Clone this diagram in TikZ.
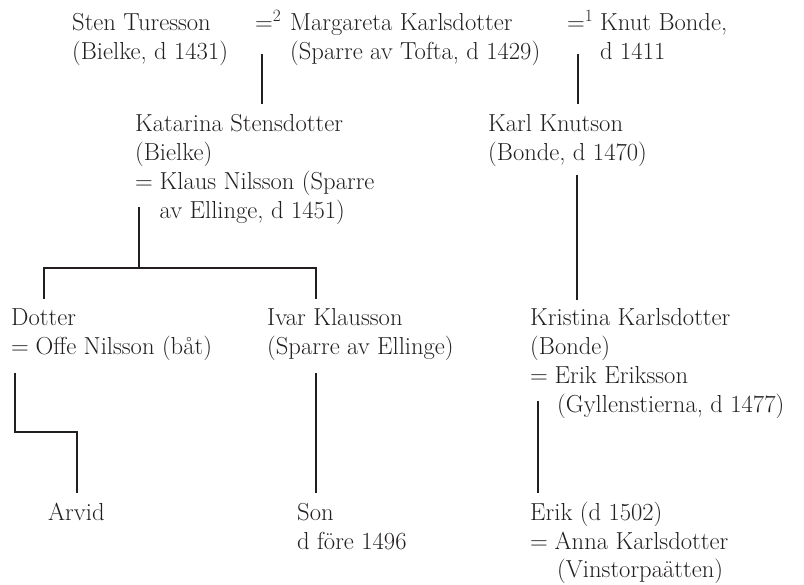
\documentclass[tikz,border=0pt]{standalone}
\definecolor{ink}{HTML}{231F20}
\newcommand\ppl[1]{\begin{tabular}[t]{@{}l@{}}#1\end{tabular}}
\newcommand\eqm{\makebox[24.5pt][l]{=}}
\begin{document}
\begin{tikzpicture}[x=1pt,y=-1pt,
  every node/.style={inner sep=0pt,anchor=base west,text=ink,font=\fontsize{24.6}{29}\selectfont},
  link/.style={draw=ink,line width=1.2pt}]
\useasboundingbox (0,0) rectangle (804,585);
% generation 1
\node (sten) at (72,31) {\ppl{Sten Turesson\\(Bielke, d 1431)}};
\node (eqa) at (255,31) {=\textsuperscript{2}};
\node (marg) at (290,31) {\ppl{Margareta Karlsdotter\\(Sparre av Tofta, d 1429)}};
\node (eqb) at (567,31) {=\textsuperscript{1}};
\node (knut) at (600,31) {\ppl{Knut Bonde,\\d 1411}};
% generation 2
\node (kat) at (135,132) {\ppl{Katarina Stensdotter\\(Bielke)\\\eqm Klaus Nilsson (Sparre\\\hspace*{24.5pt}av Ellinge, d 1451)}};
\node (karl) at (488,132) {\ppl{Karl Knutson\\(Bonde, d 1470)}};
% generation 3
\node (dotter) at (11,326) {\ppl{Dotter\\\eqm Offe Nilsson (båt)}};
\node (ivar) at (267,326) {\ppl{Ivar Klausson\\(Sparre av Ellinge)}};
\node (krist) at (530,326) {\ppl{Kristina Karlsdotter\\(Bonde)\\\eqm Erik Eriksson\\\hspace*{27pt}(Gyllenstierna, d 1477)}};
% generation 4
\node (arvid) at (48,520) {Arvid};
\node (son) at (297,520) {\ppl{Son\\d före 1496}};
\node (erik) at (530,520) {\ppl{Erik (d 1502)\\\eqm Anna Karlsdotter\\\hspace*{27pt}(Vinstorpaätten)}};
% connector points
\coordinate (m2a) at (262,54);   \coordinate (m2b) at (262,104);
\coordinate (m1a) at (578,54);   \coordinate (m1b) at (578,104);
\coordinate (ka) at (139,207);   \coordinate (kb) at (139,268);
\coordinate (kl) at (44,268);    \coordinate (kr) at (316,268);
\coordinate (kld) at (44,299);   \coordinate (krd) at (316,299);
\coordinate (kka) at (577,175);  \coordinate (kkb) at (577,300);
\coordinate (da) at (15,373);    \coordinate (db) at (15,432);
\coordinate (dc) at (77,432);    \coordinate (dd) at (77,493);
\coordinate (ia) at (316,373);   \coordinate (ib) at (316,493);
\coordinate (ea) at (538,401);   \coordinate (eb) at (538,493);
% connectors
\draw[link] (m2a) -- (m2b);
\draw[link] (m1a) -- (m1b);
\draw[link] (ka) -- (kb);
\draw[link] (kld) -- (kl) -- (kr) -- (krd);
\draw[link] (kka) -- (kkb);
\draw[link] (da) -- (db) -- (dc) -- (dd);
\draw[link] (ia) -- (ib);
\draw[link] (ea) -- (eb);
\end{tikzpicture}
\end{document}
